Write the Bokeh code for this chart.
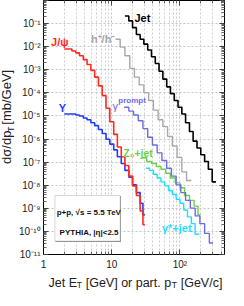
import math
from bokeh.plotting import figure
from bokeh.layouts import row, column
from bokeh.models import FixedTicker, CustomJSTickFormatter, LogAxis, Label, BoxAnnotation
from bokeh.embed import file_html
from bokeh.resources import INLINE

# ---------------- data (bin left edges [GeV], last entry = upper edge; dsigma/dpT [mb/GeV]) -------------
jet_pt = [15.6, 17.8, 20.2, 23.0, 26.1, 29.6, 33.7, 38.3, 43.5, 49.4, 56.2, 64.0, 72.6, 82.6, 93.8,
          106.7, 121, 138, 156, 178, 202, 230, 261, 297, 337]
jet_xs = [0.213, 0.131, 0.0667, 0.0338, 0.0209, 0.0129, 7.2e-3, 3.66e-3, 1.86e-3, 8.6e-4, 3.95e-4,
          1.82e-4, 9.25e-5, 4.7e-5, 2.39e-5, 1.21e-5, 5.1e-6, 2.13e-6, 8.1e-7, 4.1e-7, 2.08e-7,
          1.06e-7, 4.9e-8, 1.39e-8]

hadron_pt = [11.4, 13.3, 15.6, 18.4, 21.5, 25.3, 29.6, 34.8, 40.8, 47.9, 56.2, 65.9, 77.4, 90.8,
             106.7, 125, 147]
hadron_xs = [0.0209, 9.6e-3, 4.03e-3, 1.15e-3, 4.8e-4, 2.21e-4, 1.02e-4, 4.7e-5, 1.79e-5, 6.8e-6,
             3.45e-6, 1.31e-6, 5.0e-7, 1.6e-7, 3.8e-8, 1.6e-8]

jpsi_pt = [2.02, 2.61, 2.97, 3.37, 3.83, 4.35, 4.95, 5.62, 6.39, 7.26, 8.25, 9.38, 10.7, 12.1, 13.8,
           15.6, 17.8, 20.2, 23.0, 26.1, 28.7, 30.6]
jpsi_xs = [7.9e-3, 6.5e-3, 5.4e-3, 4.03e-3, 2.74e-3, 1.69e-3, 9.4e-4, 4.8e-4, 2.01e-4, 7.6e-5, 2.17e-5,
           5.6e-6, 1.59e-6, 4.5e-7, 1.72e-7, 7.2e-8, 2.48e-8, 9.4e-9, 3.59e-9, 7.6e-10, 1.97e-10]

upsilon_pt = [2.02, 2.97, 3.37, 3.83, 4.35, 4.95, 5.62, 6.39, 7.26, 8.25, 9.38, 10.7, 12.1, 13.8, 15.6,
              17.8, 20.2, 23.0, 26.1, 28.7, 30.6]
upsilon_xs = [1.21e-5, 1.10e-5, 1.0e-5, 8.2e-6, 6.8e-6, 5.1e-6, 3.8e-6, 2.58e-6, 1.75e-6, 9.8e-7, 6.05e-7,
              3.38e-7, 1.72e-7, 8.7e-8, 4.4e-8, 2.25e-8, 1.04e-8, 4.8e-9, 1.65e-9, 5.2e-10]

gprompt_pt = [15.2, 17.8, 20.9, 24.5, 28.7, 33.7, 39.5, 46.4, 54.4, 63.9, 75, 88, 103, 121, 142, 167,
              196, 230, 270, 306]
gprompt_xs = [2.39e-5, 1.62e-5, 1.10e-5, 6.2e-6, 2.84e-6, 1.19e-6, 5.5e-7, 2.53e-7, 1.17e-7, 5.4e-8,
              2.48e-8, 1.04e-8, 4.8e-9, 2.21e-9, 1.02e-9, 4.7e-10, 2.17e-10, 8.2e-11, 3.13e-11]

zjet_pt = [27.8, 32.6, 38.3, 45, 52.7, 62, 72.6, 85.3, 100, 117, 138, 161, 184, 202]
zjet_xs = [1.56e-7, 1.06e-7, 8.7e-8, 6.5e-8, 4.9e-8, 3.32e-8, 2.05e-8, 1.26e-8, 7.8e-9, 3.59e-9, 2.21e-9,
           1.24e-9, 5.2e-10]

gstar_pt = [31.6, 35.9, 40.8, 46.4, 52.7, 60, 68.1, 77.4, 88, 100, 113.6, 129, 147, 167, 190]
gstar_xs = [5.4e-8, 4.4e-8, 3.0e-8, 2.05e-8, 1.39e-8, 9.4e-9, 5.8e-9, 3.95e-9, 2.44e-9, 1.65e-9, 8.4e-10,
            4.27e-10, 2.17e-10, 7.5e-11]

x_major_ticks = [1, 10, 100]
x_minor_ticks = [2, 3, 4, 5, 6, 7, 8, 9, 20, 30, 40, 50, 60, 70, 80, 90, 200, 300, 400]
y_exponents = [-11, -10, -9, -8, -7, -6, -5, -4, -3, -2, -1, 0]
y_major_ticks = [10.0 ** e for e in y_exponents]
y_minor_ticks = [m * 10.0 ** e for e in y_exponents[:-1] for m in range(2, 10)]

FONT = "Liberation Sans"
TXT = "#222222"

# ---------------- main plot ----------------
p = figure(width=212, height=272, x_axis_type="log", y_axis_type="log",
           x_range=(1, 450), y_range=(1e-11, 1),
           output_backend="svg", toolbar_location=None,
           min_border_left=25, min_border_right=4, min_border_top=0, min_border_bottom=16,
           background_fill_color="white", border_fill_color="white",
           outline_line_color="black", outline_line_width=1)

SUP = """
const sup = {'-':'\u207b','0':'\u2070','1':'\u00b9','2':'\u00b2','3':'\u00b3','4':'\u2074',
             '5':'\u2075','6':'\u2076','7':'\u2077','8':'\u2078','9':'\u2079'};
const e = Math.round(Math.log10(tick));
"""
x_fmt = CustomJSTickFormatter(code=SUP + """
if (e == 0) return '1';
if (e == 1) return '10';
return '10' + String(e).split('').map(c => sup[c]).join('');
""")
y_fmt = CustomJSTickFormatter(code=SUP + """
if (e >= 0) return '';
return '10' + String(e).split('').map(c => sup[c]).join('');
""")
blank = CustomJSTickFormatter(code="return '';")

xt = FixedTicker(ticks=x_major_ticks, minor_ticks=x_minor_ticks)
yt = FixedTicker(ticks=y_major_ticks, minor_ticks=y_minor_ticks)

for ax, fmt, tk in ((p.xaxis[0], x_fmt, xt), (p.yaxis[0], y_fmt, yt)):
    ax.ticker = tk
    ax.formatter = fmt
    ax.major_tick_in = 5
    ax.major_tick_out = 0
    ax.minor_tick_in = 3
    ax.minor_tick_out = 0
    ax.axis_line_color = "black"
    ax.major_tick_line_color = "#444444"
    ax.minor_tick_line_color = "#666666"
    ax.major_label_text_font = FONT
    ax.major_label_text_font_size = "10px"
    ax.major_label_text_color = TXT
p.yaxis[0].major_label_standoff = 3
p.xaxis[0].major_label_standoff = 4

top = LogAxis(ticker=FixedTicker(ticks=x_major_ticks, minor_ticks=x_minor_ticks), formatter=blank,
              major_tick_in=5, major_tick_out=0, minor_tick_in=3, minor_tick_out=0,
              major_label_standoff=0, major_label_text_font_size="1px",
              major_tick_line_color="#444444", minor_tick_line_color="#666666")
right = LogAxis(ticker=FixedTicker(ticks=y_major_ticks, minor_ticks=y_minor_ticks), formatter=blank,
                major_tick_in=5, major_tick_out=0, minor_tick_in=3, minor_tick_out=0,
                major_label_standoff=0, major_label_text_font_size="1px",
                major_tick_line_color="#444444", minor_tick_line_color="#666666")
p.add_layout(top, "above")
p.add_layout(right, "right")

p.xgrid.ticker = xt
p.ygrid.ticker = yt
p.xgrid.grid_line_color = "#c4c4c4"
p.xgrid.grid_line_dash = "2 2"
p.xgrid.minor_grid_line_color = "#cfcfcf"
p.xgrid.minor_grid_line_dash = "2 2"
p.ygrid.grid_line_color = "#c4c4c4"
p.ygrid.grid_line_dash = "2 2"


def stairs(edges, vals):
    return list(edges), list(vals) + [vals[-1]]


series = [
    (hadron_pt, hadron_xs, "#a8a8a8", 1.4),
    (gstar_pt, gstar_xs, "#18e0ff", 1.4),
    (zjet_pt, zjet_xs, "#6ccf4c", 1.4),
    (gprompt_pt, gprompt_xs, "#6b6be6", 1.4),
    (upsilon_pt, upsilon_xs, "#1f3cff", 1.6),
    (jpsi_pt, jpsi_xs, "#ff2a1f", 1.6),
    (jet_pt, jet_xs, "#000000", 1.6),
]
for xs, ys, col, lw in series:
    sx, sy = stairs(xs, ys)
    p.step(sx, sy, mode="after", line_color=col, line_width=lw)

# info box
p.add_layout(BoxAnnotation(left=1.5, right=13.7, bottom=3.5e-11, top=3.4e-9,
                           fill_color="#9a9a9a", fill_alpha=1, line_color=None))
p.add_layout(BoxAnnotation(left=1.47, right=13.3, bottom=3.8e-11, top=3.6e-9,
                           fill_color="white", fill_alpha=1, line_color="#777777", line_width=1))


def lab(fig, x, y, text, color, size="11px", style="bold", angle=0.0, baseline="middle", align="left"):
    fig.add_layout(Label(x=x, y=y, text=text, text_color=color, text_font=FONT, angle=angle,
                         text_font_size=size, text_font_style=style,
                         text_baseline=baseline, text_align=align))


lab(p, 1.56, 6.3e-10, "p+p, \u221as = 5.5 TeV", "#111111", size="8px")
lab(p, 1.72, 9.1e-11, "PYTHIA, |\u03b7|<2.5", "#111111", size="8px")

lab(p, 21.5, 0.175, "Jet", "#000000")
lab(p, 1.29, 0.0156, "J/\u03c8", "#ff2a1f")
lab(p, 4.95, 0.0209, "h\u207a/h\u207b", "#a8a8a8")
lab(p, 1.67, 2.2e-5, "\u03a5", "#1f3cff")
lab(p, 10.3, 2.6e-5, "\u03b3", "#6b6be6", style="normal")
lab(p, 12.5, 4.7e-5, "prompt", "#6b6be6", size="8px")
lab(p, 14.8, 2.4e-7, "Z\u2080+jet", "#6ccf4c", size="10.5px")
lab(p, 54.4, 1.34e-10, "\u03b3*+jet", "#18e0ff")


# ---------------- axis titles as small companion figures ----------------
def title_fig(w, h):
    f = figure(width=w, height=h, x_range=(0, w), y_range=(0, h), output_backend="svg",
               toolbar_location=None, x_axis_location=None, y_axis_location=None,
               min_border=0, outline_line_color=None, background_fill_color="white",
               border_fill_color="white")
    f.xgrid.visible = False
    f.ygrid.visible = False
    return f


yt_fig = title_fig(16, 272)
lab(yt_fig, 6, 97, "d\u03c3/dp", TXT, size="13px", style="normal", angle=math.pi / 2, baseline="middle")
lab(yt_fig, 10.5, 131.3, "T", TXT, size="9px", style="normal", angle=math.pi / 2, baseline="middle")
lab(yt_fig, 6, 139, "[mb/GeV]", TXT, size="13px", style="normal", angle=math.pi / 2, baseline="middle")

xt_fig = title_fig(228, 18)
lab(xt_fig, 48, 8, "Jet E", TXT, size="12.5px", style="normal", baseline="alphabetic")
lab(xt_fig, 76.3, 5.5, "T", TXT, size="8.5px", style="normal", baseline="alphabetic")
lab(xt_fig, 85.2, 8, "[GeV] or part. p", TXT, size="12.5px", style="normal", baseline="alphabetic")
lab(xt_fig, 171.2, 5.5, "T", TXT, size="8.5px", style="normal", baseline="alphabetic")
lab(xt_fig, 180.2, 8, "[GeV/c]", TXT, size="12.5px", style="normal", baseline="alphabetic")

layout = column(row(yt_fig, p, spacing=0), xt_fig, spacing=0)

open("out.html", "w").write(file_html(layout, INLINE))
